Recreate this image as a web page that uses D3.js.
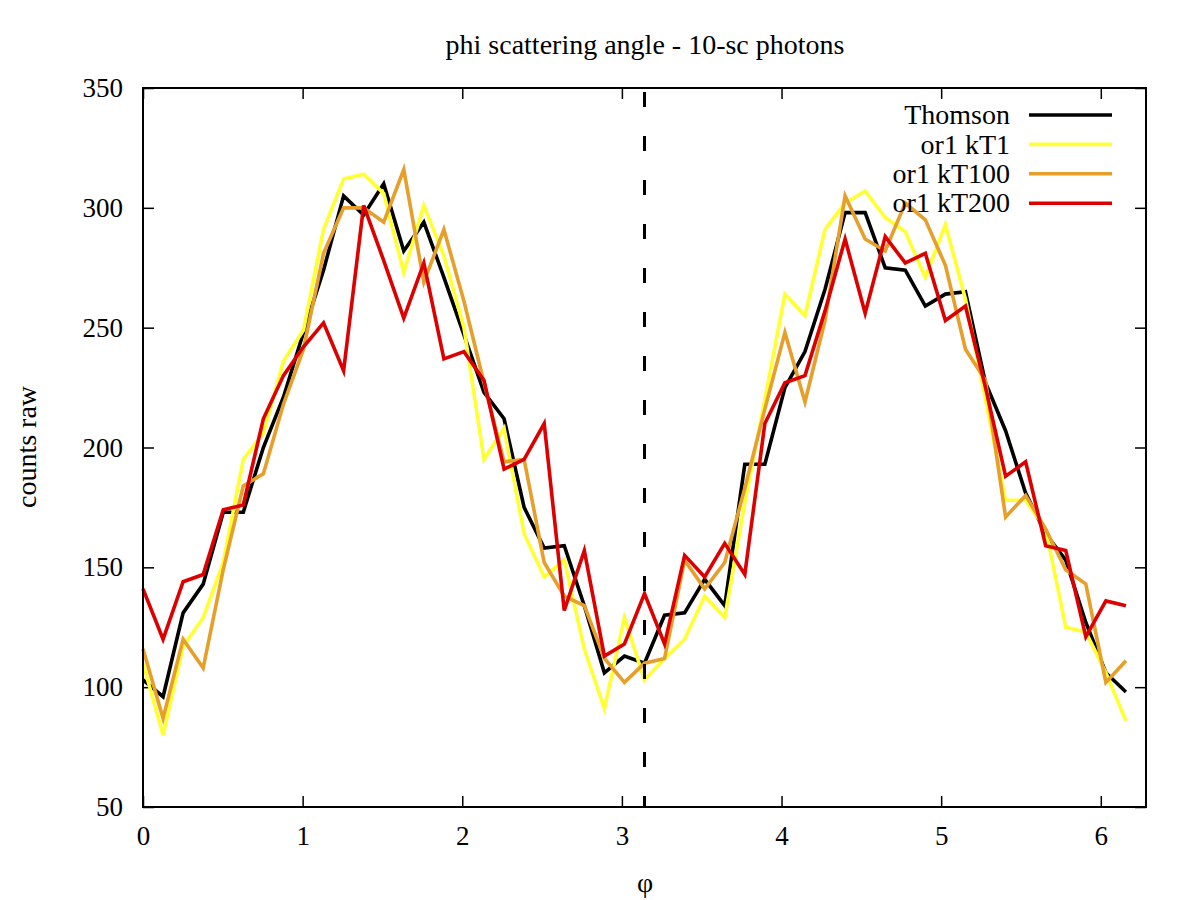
<!DOCTYPE html>
<html>
<head>
<meta charset="utf-8">
<script src="https://cdn.jsdelivr.net/npm/d3@7"></script>
<style>
  body { margin: 0; background: #fff; }
  svg text { font-family: "Liberation Serif", "DejaVu Serif", serif; fill: #000; }
</style>
</head>
<body>
<div id="chart"></div>
<script>
// 50 bins over [0, 2pi)
const nBins = 50;
const binWidth = 2 * Math.PI / nBins;

const thomson = [103, 96, 131, 143, 173, 173, 200, 221, 248, 274, 305, 297, 310, 282, 294, 271, 247, 223, 212, 175,
  158, 159, 134, 106, 113, 110, 130, 131, 145, 134, 193, 193, 225, 240, 266, 298, 298, 275, 274, 259,
  264, 265, 227, 207, 181, 164, 153, 127, 106, 98];
const kT1 = [110, 80, 117, 129, 152, 195, 206, 236, 249, 291, 312, 314, 306, 273, 301, 280, 250, 195, 208, 164,
  146, 153, 116, 91, 129, 103, 112, 120, 138, 129, 177, 220, 264, 255, 291, 302, 307, 296, 290, 271,
  293, 262, 220, 178, 178, 166, 125, 123, 106, 86];
const kT100 = [116, 87, 120, 108, 149, 184, 189, 218, 241, 281, 300, 300, 294, 316, 269, 291, 261, 227, 194, 195,
  152, 138, 134, 112, 102, 110, 112, 153, 141, 152, 183, 216, 248, 219, 253, 305, 287, 282, 302, 295,
  276, 241, 228, 171, 180, 166, 149, 143, 102, 111];
const kT200 = [141, 120, 144, 147, 174, 176, 212, 230, 242, 252, 232, 301, 278, 254, 277, 237, 240, 228, 191, 195,
  210, 132, 157, 113, 118, 139, 118, 155, 146, 160, 147, 210, 227, 230, 257, 287, 256, 288, 277, 281,
  253, 259, 225, 188, 194, 159, 157, 121, 136, 134];

const seriesNames = ['Thomson', 'or1 kT1', 'or1 kT100', 'or1 kT200'];
const seriesValues = [thomson, kT1, kT100, kT200];
const seriesColors = ['#000000', '#ffff33', '#e69f2b', '#dd0000'];

const xTicks = [0, 1, 2, 3, 4, 5, 6];
const yTicks = [50, 100, 150, 200, 250, 300, 350];
const markerX = Math.PI;

const W = 1200, H = 900;
const margin = { left: 143, right: 54, top: 88, bottom: 93 };
const fontSize = 28;
const lineWidth = 3.6;

const svg = d3.select('#chart').append('svg')
  .attr('width', W)
  .attr('height', H);

const x = d3.scaleLinear()
  .domain([0, 2 * Math.PI])
  .range([margin.left, W - margin.right]);
const y = d3.scaleLinear()
  .domain([50, 350])
  .range([H - margin.bottom, margin.top]);

const tickLen = 11;

// ticks on all four sides, pointing in
svg.append('g')
  .attr('transform', 'translate(0,' + y.range()[0] + ')')
  .call(d3.axisBottom(x).tickValues(xTicks).tickSize(-tickLen).tickPadding(19).tickFormat(d3.format('d')))
  .call(g => g.select('.domain').remove())
  .selectAll('text').attr('font-size', 27);

svg.append('g')
  .attr('transform', 'translate(0,' + y.range()[1] + ')')
  .call(d3.axisTop(x).tickValues(xTicks).tickSize(-tickLen).tickFormat(''))
  .call(g => g.select('.domain').remove());

svg.append('g')
  .attr('transform', 'translate(' + x.range()[0] + ',0)')
  .call(d3.axisLeft(y).tickValues(yTicks).tickSize(-tickLen).tickPadding(20))
  .call(g => g.select('.domain').remove())
  .selectAll('text').attr('font-size', 27);

svg.append('g')
  .attr('transform', 'translate(' + x.range()[1] + ',0)')
  .call(d3.axisRight(y).tickValues(yTicks).tickSize(-tickLen).tickFormat(''))
  .call(g => g.select('.domain').remove());

svg.selectAll('.tick line')
  .attr('stroke', '#000')
  .attr('stroke-width', 1.5);

// data lines
const line = d3.line()
  .x((d, i) => x(i * binWidth))
  .y(d => y(d));

svg.append('g')
  .selectAll('path')
  .data(seriesValues)
  .enter()
  .append('path')
  .attr('d', d => line(d))
  .attr('fill', 'none')
  .attr('stroke', (d, i) => seriesColors[i])
  .attr('stroke-width', lineWidth)
  .attr('stroke-linejoin', 'miter');

// pi marker
svg.append('line')
  .attr('x1', x(markerX)).attr('x2', x(markerX))
  .attr('y1', y(350) + 4).attr('y2', y(50))
  .attr('stroke', '#000')
  .attr('stroke-width', 3)
  .attr('stroke-dasharray', '15,29');

// frame
svg.append('rect')
  .attr('x', x.range()[0])
  .attr('y', y.range()[1])
  .attr('width', x.range()[1] - x.range()[0])
  .attr('height', y.range()[0] - y.range()[1])
  .attr('fill', 'none')
  .attr('stroke', '#000')
  .attr('stroke-width', 2);

// legend
const legend = svg.append('g')
  .selectAll('g')
  .data(seriesNames)
  .enter()
  .append('g')
  .attr('transform', (d, i) => 'translate(0,' + (115 + i * 29.4) + ')');

legend.append('text')
  .attr('x', 1010)
  .attr('dy', '0.33em')
  .attr('text-anchor', 'end')
  .attr('font-size', fontSize)
  .text(d => d);

legend.append('line')
  .attr('x1', 1029).attr('x2', 1112)
  .attr('stroke', (d, i) => seriesColors[i])
  .attr('stroke-width', lineWidth);

// titles
svg.append('text')
  .attr('x', 645)
  .attr('y', 54)
  .attr('text-anchor', 'middle')
  .attr('font-size', fontSize)
  .text('phi scattering angle - 10-sc photons');

svg.append('text')
  .attr('transform', 'translate(36,447) rotate(-90)')
  .attr('text-anchor', 'middle')
  .attr('font-size', fontSize)
  .text('counts raw');

svg.append('text')
  .attr('x', 645)
  .attr('y', 892)
  .attr('text-anchor', 'middle')
  .attr('font-size', fontSize)
  .text('φ');
</script>
</body>
</html>
